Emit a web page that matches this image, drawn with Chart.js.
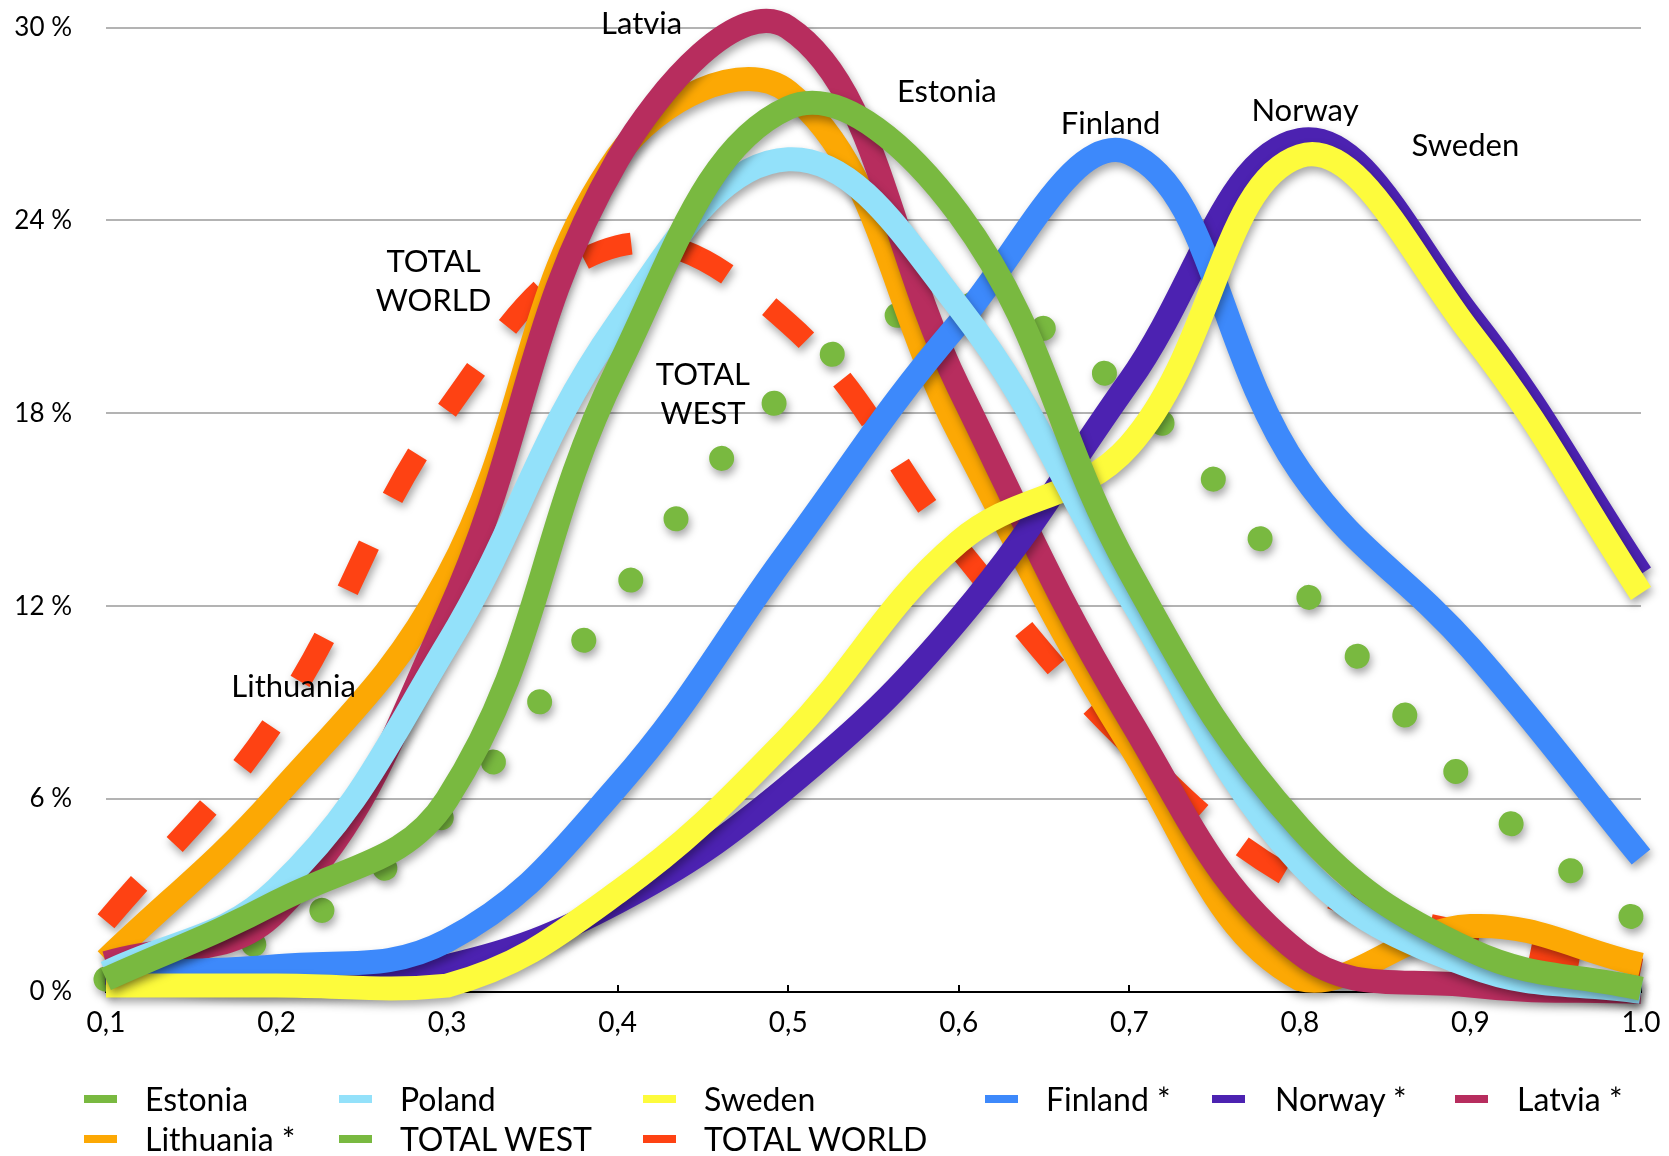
<!DOCTYPE html>
<html>
<head>
<meta charset="utf-8">
<script src="https://cdn.jsdelivr.net/npm/chart.js@4.4.1/dist/chart.umd.min.js"></script>
<style>
    html, body { margin: 0; padding: 0; background: #fff; }
    body { width: 1669px; height: 1156px; position: relative; overflow: hidden; font-family: Lato, 'Open Sans', sans-serif; }
    #wrap { position: absolute; left: 0; top: 0; width: 1669px; height: 1060px; }
    #legend { position: absolute; left: 0; top: 0; width: 1669px; height: 1156px; }
    .lbl { position: absolute; font-size: 32px; line-height: 32px; color: #000; white-space: nowrap; }
    .mark { position: absolute; width: 33px; height: 8px; }
</style>
</head>
<body>
<div id="wrap"><canvas id="chart" width="1669" height="1060"></canvas></div>
<div id="legend"></div>
<script>
// x positions and their printed labels
const xValues = [0.1, 0.2, 0.3, 0.4, 0.5, 0.6, 0.7, 0.8, 0.9, 1.0]
const xLabels = ['0,1', '0,2', '0,3', '0,4', '0,5', '0,6', '0,7', '0,8', '0,9', '1.0']
const yTicks = [0, 6, 12, 18, 24, 30]

// share of population (%) per series
const estonia = [0.4, 2.8, 6.0, 19.4, 27.5, 24.2, 13.1, 5.1, 1.3, 0.1]
const poland = [0.6, 3.2, 10.8, 20.8, 25.9, 21.3, 12.3, 4.0, 0.8, 0.0]
const sweden = [0.2, 0.2, 0.2, 3.1, 7.9, 14.0, 17.0, 26.0, 20.5, 12.4]
const finland = [0.6, 0.8, 1.6, 6.4, 13.7, 20.8, 26.1, 16.2, 10.7, 4.2]
const norway = [0.6, 0.3, 0.8, 2.8, 6.4, 11.6, 19.0, 26.5, 21.0, 13.0]
const latvia = [0.9, 2.5, 11.7, 25.9, 30.0, 18.8, 8.5, 1.2, 0.2, 0]
const lithuania = [1.0, 6.1, 12.9, 26.0, 28.0, 17.4, 7.7, 0.4, 2.05, 0.85]
const totalWest = [0.4, 1.8, 5.6, 12.3, 18.7, 21.4, 18.6, 12.6, 6.4, 2.1]
const totalWorld = [2.2, 8.5, 18.1, 23.2, 20.8, 13.8, 7.7, 3.4, 1.8, 0.7]

// text written inside the plot, placed in data units
const chartLabels = [
    { text: ['Latvia'], x: 0.414, y: 30.1 },
    { text: ['Estonia'], x: 0.593, y: 28.0 },
    { text: ['Finland'], x: 0.689, y: 27.0 },
    { text: ['Norway'], x: 0.803, y: 27.4 },
    { text: ['Sweden'], x: 0.897, y: 26.3 },
    { text: ['TOTAL', 'WORLD'], x: 0.292, y: 22.1 },
    { text: ['TOTAL', 'WEST'], x: 0.45, y: 18.6 },
    { text: ['Lithuania'], x: 0.21, y: 9.5 },
]

// where the plot area sits on the page
const plotTop = 27.5
const plotRight = 1641

const pts = arr => arr.map((v, i) => ({ x: xValues[i], y: v }))

const solid = (label, data, color) => ({
    label,
    data: pts(data),
    borderColor: color,
    backgroundColor: color,
    borderWidth: 24,
    borderCapStyle: 'butt',
    borderJoinStyle: 'round',
    pointRadius: 0,
    tension: 0.4,
    fill: false,
    clip: false,
})

// dataset 0 is drawn on top
const datasets = [
    solid('Estonia', estonia, '#79b940'),
    solid('Poland', poland, '#93e1fa'),
    solid('Sweden', sweden, '#fdfb3c'),
    solid('Finland *', finland, '#3d89fb'),
    solid('Norway *', norway, '#4c22b1'),
    { ...solid('Latvia *', latvia, '#b72d5e'), capBezierPoints: false },
    solid('Lithuania *', lithuania, '#fca804'),
    {
        ...solid('TOTAL WEST', totalWest, '#79b940'),
        borderWidth: 25,
        borderCapStyle: 'round',
        borderDash: [0.01, 76],
    },
    {
        ...solid('TOTAL WORLD', totalWorld, '#fe4213'),
        borderWidth: 22,
        borderDash: [50, 53],
    },
]

const shadowPlugin = {
    id: 'shadow',
    beforeDatasetDraw(chart) {
        const ctx = chart.ctx
        ctx.save()
        ctx.shadowColor = 'rgba(0,0,0,0.35)'
        ctx.shadowBlur = 8
        ctx.shadowOffsetX = 2
        ctx.shadowOffsetY = 5
    },
    afterDatasetDraw(chart) {
        chart.ctx.restore()
    },
}

const tickPlugin = {
    id: 'upTicks',
    beforeDatasetsDraw(chart) {
        const { ctx, scales: { x }, chartArea } = chart
        ctx.save()
        ctx.strokeStyle = '#000'
        ctx.lineWidth = 2
        xValues.forEach(v => {
            const px = Math.round(x.getPixelForValue(v))
            ctx.beginPath()
            ctx.moveTo(px, chartArea.bottom)
            ctx.lineTo(px, chartArea.bottom - 7)
            ctx.stroke()
        })
        ctx.restore()
    },
}

const labelPlugin = {
    id: 'chartLabels',
    afterDatasetsDraw(chart) {
        const { ctx, scales: { x, y } } = chart
        ctx.save()
        ctx.font = '31px Lato'
        ctx.fillStyle = '#000'
        ctx.textAlign = 'center'
        ctx.textBaseline = 'middle'
        chartLabels.forEach(l => {
            const cx = x.getPixelForValue(l.x)
            const cy = y.getPixelForValue(l.y)
            l.text.forEach((t, i) => {
                ctx.fillText(t, cx, cy + (i - (l.text.length - 1) / 2) * 39)
            })
        })
        ctx.restore()
    },
}

const clear = 'rgba(0,0,0,0)'

const chart = new Chart(document.getElementById('chart'), {
    type: 'line',
    data: { datasets },
    options: {
        responsive: false,
        animation: false,
        devicePixelRatio: 1,
        layout: { padding: { left: 0, right: 28, top: 27, bottom: 0 } },
        plugins: { legend: { display: false }, tooltip: { enabled: false } },
        scales: {
            x: {
                type: 'linear',
                min: 0.1,
                max: 1.0,
                afterBuildTicks: s => { s.ticks = xValues.map(v => ({ value: v })) },
                afterFit: s => { s.height = 68 },
                border: { display: true, color: '#000', width: 2 },
                // invisible tick marks only push the labels down
                grid: { drawOnChartArea: false, drawTicks: true, tickLength: 14, tickColor: clear },
                ticks: {
                    callback: (v, i) => xLabels[i],
                    font: { family: 'Lato', size: 28 },
                    color: '#000',
                    padding: 0,
                    maxRotation: 0,
                    autoSkip: false,
                },
            },
            y: {
                min: 0,
                max: 30,
                afterBuildTicks: s => { s.ticks = yTicks.map(v => ({ value: v })) },
                afterFit: s => { s.width = 106 },
                border: { display: false },
                grid: {
                    color: c => (c.tick && c.tick.value === 0 ? clear : '#b3b3b3'),
                    lineWidth: 2,
                    drawTicks: true,
                    tickLength: 34,
                    tickColor: clear,
                },
                ticks: {
                    callback: v => v + ' %',
                    font: { family: 'Lato', size: 26 },
                    color: '#000',
                    padding: 0,
                },
            },
        },
    },
    plugins: [shadowPlugin, tickPlugin, labelPlugin],
})

// nudge the layout padding until the plot area lands where the original has it
for (let k = 0; k < 3; k++) {
    const area = chart.chartArea
    const pad = chart.options.layout.padding
    pad.top += plotTop - area.top
    pad.right += area.right - plotRight
    chart.update()
}

// legend laid out like the original: six columns, then three
const legendCols = [
    { mark: 84, text: 145 },
    { mark: 339, text: 400 },
    { mark: 643, text: 704 },
    { mark: 985, text: 1046 },
    { mark: 1212, text: 1275 },
    { mark: 1455, text: 1517 },
]
const legendRows = [1099, 1139]
const legendEl = document.getElementById('legend')
chart.data.datasets.forEach((ds, i) => {
    const row = i < 6 ? 0 : 1
    const col = legendCols[i < 6 ? i : i - 6]
    const cy = legendRows[row]
    const m = document.createElement('div')
    m.className = 'mark'
    m.style.left = col.mark + 'px'
    m.style.top = (cy - 4) + 'px'
    m.style.background = ds.borderColor
    legendEl.appendChild(m)
    const t = document.createElement('div')
    t.className = 'lbl'
    t.style.left = col.text + 'px'
    t.style.top = (cy - 16) + 'px'
    t.textContent = ds.label
    legendEl.appendChild(t)
})
</script>
</body>
</html>
